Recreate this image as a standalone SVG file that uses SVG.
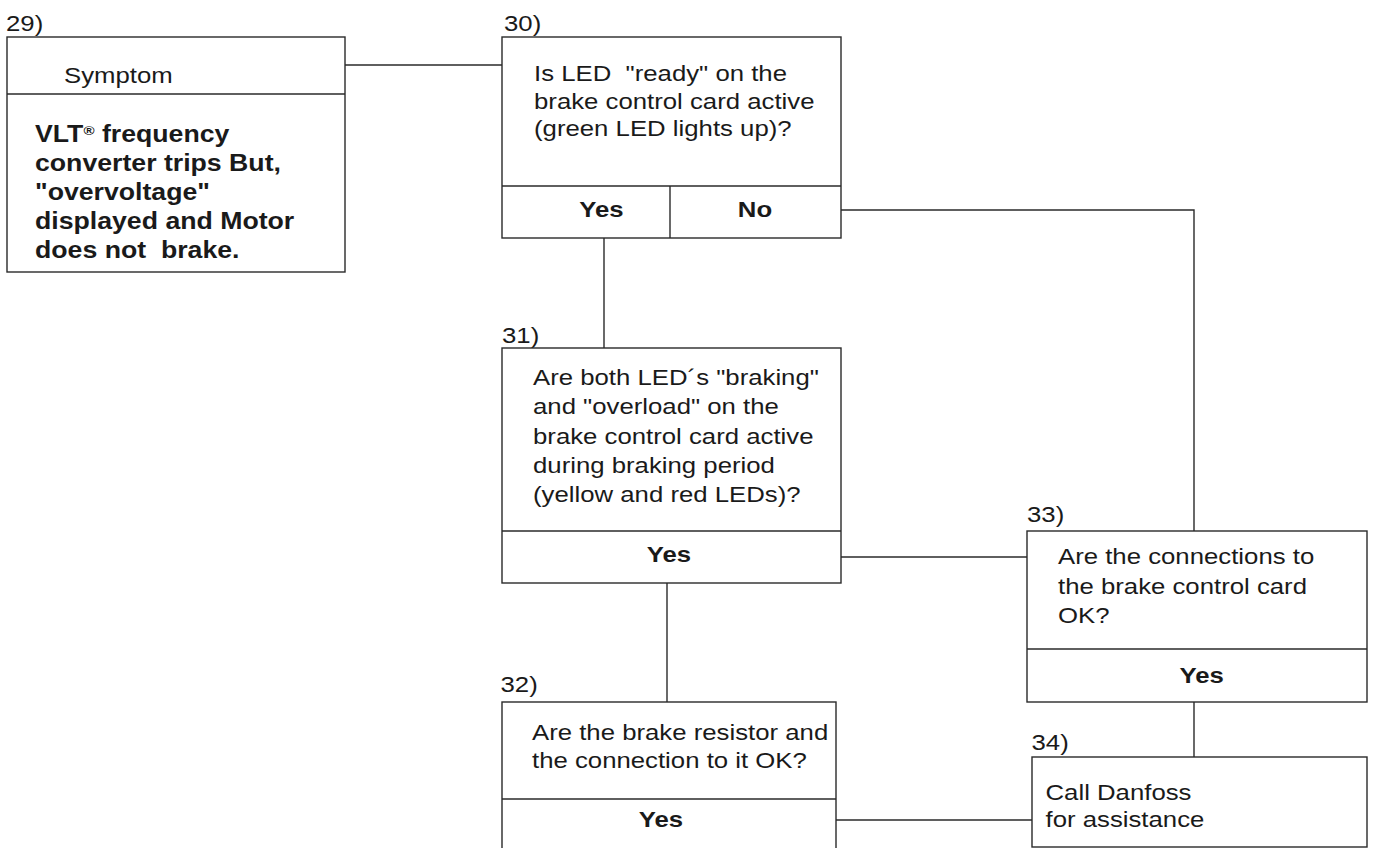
<svg xmlns="http://www.w3.org/2000/svg" width="1375" height="848" viewBox="0 0 1375 848">
<style>
.box{fill:#fff;stroke:#2a2a2a;stroke-width:1.4}
.ln{fill:none;stroke:#2a2a2a;stroke-width:1.4}
.t{font-family:"Liberation Sans",Arial,sans-serif;font-size:23px;fill:#1a1a1a}
.b{font-weight:bold}
.m{text-anchor:middle}
</style>
<rect width="1375" height="848" fill="#fff"/>
<g id="connectors">
<line class="ln" x1="345" y1="65" x2="502" y2="65"/>
<polyline class="ln" points="841,210 1194,210 1194,531"/>
<line class="ln" x1="604" y1="238" x2="604" y2="348"/>
<line class="ln" x1="841" y1="557" x2="1027" y2="557"/>
<line class="ln" x1="667" y1="583" x2="667" y2="702"/>
<line class="ln" x1="1194" y1="702" x2="1194" y2="757"/>
<line class="ln" x1="836" y1="820" x2="1032" y2="820"/>
</g>
<g id="n29">
<text class="t" transform="translate(6 31) scale(1.12 1)">29)</text>
<rect class="box" x="7" y="37" width="338" height="235"/>
<line class="ln" x1="7" y1="94" x2="345" y2="94"/>
<text class="t" transform="translate(64 83) scale(1.12 1)">Symptom</text>
<text class="t b" xml:space="preserve" transform="translate(35 142) scale(1.16 1)"><tspan x="0" y="0">VLT</tspan><tspan font-size="13" dy="-7">®</tspan><tspan dy="7"> frequency</tspan><tspan x="0" y="29">converter trips But,</tspan><tspan x="0" y="58">"overvoltage"</tspan><tspan x="0" y="87">displayed and Motor</tspan><tspan x="0" y="116">does not  brake.</tspan></text>
</g>
<g id="n30">
<text class="t" transform="translate(504 30.5) scale(1.12 1)">30)</text>
<rect class="box" x="502" y="37" width="339" height="201"/>
<line class="ln" x1="502" y1="186" x2="841" y2="186"/>
<line class="ln" x1="670" y1="186" x2="670" y2="238"/>
<text class="t" xml:space="preserve" transform="translate(534 81) scale(1.12 1)"><tspan x="0" y="0">Is LED  "ready" on the</tspan><tspan x="0" y="27.7">brake control card active</tspan><tspan x="0" y="55.4">(green LED lights up)?</tspan></text>
<text class="t b m" transform="translate(601.5 217) scale(1.12 1)">Yes</text>
<text class="t b m" transform="translate(755 217) scale(1.12 1)">No</text>
</g>
<g id="n31">
<text class="t" transform="translate(502 343) scale(1.12 1)">31)</text>
<rect class="box" x="502" y="348" width="339" height="235"/>
<line class="ln" x1="502" y1="531" x2="841" y2="531"/>
<text class="t" transform="translate(533 385) scale(1.12 1)"><tspan x="0" y="0">Are both LED´s "braking"</tspan><tspan x="0" y="29.3">and "overload" on the</tspan><tspan x="0" y="58.6">brake control card active</tspan><tspan x="0" y="87.9">during braking period</tspan><tspan x="0" y="117.2">(yellow and red LEDs)?</tspan></text>
<text class="t b m" transform="translate(669 562) scale(1.12 1)">Yes</text>
</g>
<g id="n32">
<text class="t" transform="translate(500.5 692) scale(1.12 1)">32)</text>
<rect class="box" x="502" y="702" width="334" height="170"/>
<line class="ln" x1="502" y1="799" x2="836" y2="799"/>
<text class="t" transform="translate(532 740) scale(1.12 1)"><tspan x="0" y="0">Are the brake resistor and</tspan><tspan x="0" y="28.3">the connection to it OK?</tspan></text>
<text class="t b m" transform="translate(661 827) scale(1.12 1)">Yes</text>
</g>
<g id="n33">
<text class="t" transform="translate(1027 521.7) scale(1.12 1)">33)</text>
<rect class="box" x="1027" y="531" width="340" height="171"/>
<line class="ln" x1="1027" y1="649" x2="1367" y2="649"/>
<text class="t" transform="translate(1058 564.3) scale(1.12 1)"><tspan x="0" y="0">Are the connections to</tspan><tspan x="0" y="29.3">the brake control card</tspan><tspan x="0" y="58.6">OK?</tspan></text>
<text class="t b m" transform="translate(1201.7 682.7) scale(1.12 1)">Yes</text>
</g>
<g id="n34">
<text class="t" transform="translate(1031.5 750) scale(1.12 1)">34)</text>
<rect class="box" x="1032" y="757" width="335" height="90"/>
<text class="t" transform="translate(1045.5 800) scale(1.12 1)"><tspan x="0" y="0">Call Danfoss</tspan><tspan x="0" y="27">for assistance</tspan></text>
</g>
</svg>
